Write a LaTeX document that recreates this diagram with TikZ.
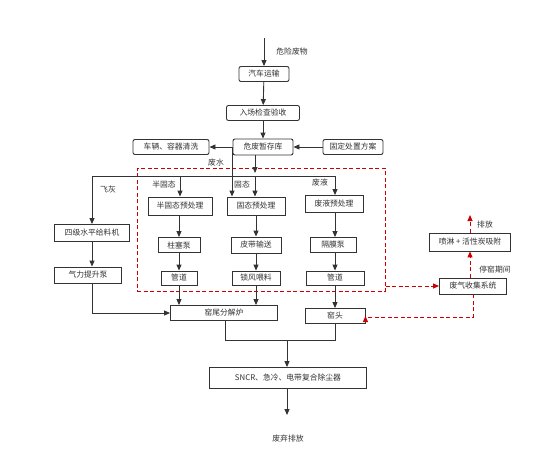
\documentclass[tikz,border=0pt]{standalone}
\usepackage{fontspec}
\setmainfont{Noto Sans CJK SC}
\usetikzlibrary{arrows.meta}
\definecolor{ln}{HTML}{333333}
\definecolor{tx}{HTML}{333333}
\definecolor{rd}{HTML}{CC0000}
\tikzset{
 box/.style={draw=ln, line width=0.9pt, fill=white, text=tx, inner sep=0pt, minimum height=15pt, font=\fontsize{7.8}{9}\selectfont},
 rbox/.style={box, rounded corners=2pt},
 lbl/.style={text=tx, font=\fontsize{7.8}{9}\selectfont, inner sep=0pt},
 conn/.style={draw=ln, line width=0.9pt},
 arr/.style={conn, -{Triangle[length=6pt,width=5pt]}},
 rdash/.style={draw=rd, line width=1pt, dash pattern=on 4pt off 2.5pt},
 rarr/.style={rdash, -{Triangle[length=6pt,width=5pt]}},
}
\begin{document}
\begin{tikzpicture}[x=1pt,y=-1pt]
\useasboundingbox[fill=white] (0,0) rectangle (553,472);
% dashed group
\node[rdash, minimum width=248pt, minimum height=123pt, inner sep=0pt] (grp) at (261,229.5) {};
% top boxes
\node[rbox, minimum width=50pt] (qc) at (264,74) {汽车运输};
\node[rbox, minimum width=73pt] (rc) at (263,113) {入场检查验收};
\node[rbox, minimum width=60pt, minimum height=16pt] (zc) at (263,147) {危废暂存库};
\node[rbox, minimum width=76pt] (cl) at (171,147) {车辆、容器清洗};
\node[rbox, minimum width=60pt] (gd) at (353,147) {固定处置方案};
% pretreatment
\node[box, minimum width=64pt, minimum height=18pt] (bp) at (180,206) {半固态预处理};
\node[box, minimum width=58pt, minimum height=18pt] (gp) at (256,206) {固态预处理};
\node[box, minimum width=58pt, minimum height=17pt] (fp) at (334,204) {废液预处理};
\node[box, minimum width=42pt] (zs) at (179,245) {柱塞泵};
\node[box, minimum width=50pt, minimum height=16pt] (pd) at (256,245) {皮带输送};
\node[box, minimum width=46pt] (gm) at (333,245) {隔膜泵};
\node[box, minimum width=36pt, minimum height=14pt] (gd2) at (179,278) {管道};
\node[box, minimum width=48pt, minimum height=14pt] (sf) at (256,278) {锁风喂料};
\node[box, minimum width=58pt, minimum height=14pt] (gd4) at (335,278) {管道};
% left column
\node[box, minimum width=75pt, minimum height=17pt] (sj) at (92,233) {四级水平给料机};
\node[box, minimum width=67pt, minimum height=16pt] (ql) at (88,275) {气力提升泵};
% kiln
\node[box, minimum width=107pt] (yw) at (224,313) {窑尾分解炉};
\node[box, minimum width=60pt] (yt) at (335,316) {窑头};
\node[box, minimum width=157pt, minimum height=21pt] (sn) at (288,378) {SNCR、急冷、电带复合除尘器};
% gas
\node[box, minimum width=67pt, minimum height=16pt] (fq) at (473,286) {废气收集系统};
\node[box, minimum width=81pt, minimum height=18pt] (pl) at (470,242) {喷淋 + 活性炭吸附};
% labels
\node[lbl] (l1) at (292,52) {危险废物};
\node[lbl] (l2) at (216,163) {废水};
\node[lbl] (l3) at (108,190) {飞灰};
\node[lbl] (l4) at (164,185) {半固态};
\node[lbl] (l5) at (242,185) {固态};
\node[lbl] (l6) at (320,183) {废液};
\node[lbl] (l7) at (485,225) {排放};
\node[lbl] (l8) at (495,270) {停窑期间};
\node[lbl] (l9) at (288,439) {废弃排放};
% coordinates
\coordinate (top) at (264,38);
\coordinate (ws) at (232,147);
\coordinate (bus) at (255,176);
\coordinate (busL) at (92,176);
\coordinate (busR) at (335,176);
\coordinate (j) at (287,340);
\coordinate (out) at (287,415);
\coordinate (up) at (470,215);
% connectors
\draw[arr] (top) -- (qc);
\draw[arr] (qc) -- (rc);
\draw[arr] (rc) -- (zc);
\draw[arr] (gd) -- (zc);
\draw[arr] (zc) -- (cl);
\draw[arr] (ws) -- (ws |- gp.north);
\draw[arr] (zc.south -| bus) -- ([yshift=3pt]bus);
\draw[conn] (busL) -- (busR);
\draw[arr] (busL) -- (sj);
\draw[arr] (bus) -- (bus |- gp.north);
\draw[arr] (bp.south |- bus) -- (bp);
\draw[arr] (busR) -- (busR |- fp.north);
\draw[arr] (sj.south -| busL) -- (busL |- ql.north);
\draw[arr] (busL |- ql.south) |- (yw);
\draw[arr] (bp.south -| gd2) -- (zs);
\draw[arr] (zs) -- (gd2);
\draw[arr] (gd2) -- (gd2 |- yw.north);
\draw[arr] (gp) -- (pd);
\draw[arr] (pd) -- (sf);
\draw[arr] (sf) -- (sf |- yw.north);
\draw[arr] (fp.south -| busR) -- (busR |- gm.north);
\draw[arr] (gm.south -| busR) -- (busR |- gd4.north);
\draw[arr] (gd4) -- (yt);
\draw[conn] (yw.south -| 225,0) |- (yt.south |- j) -- (yt.south);
\draw[arr] (j) -- (j |- sn.north);
\draw[arr] (sn.south -| out) -- (out);
% red dashed
\draw[rarr] (grp.east |- fq.west) -- (fq.west);
\draw[rarr] (fq.south) |- (yt.east |- 0,317) -- (yt.east);
\draw[rarr] (fq.north -| pl) -- (pl.south);
\draw[rarr] (pl.north) -- (up);
\end{tikzpicture}
\end{document}
